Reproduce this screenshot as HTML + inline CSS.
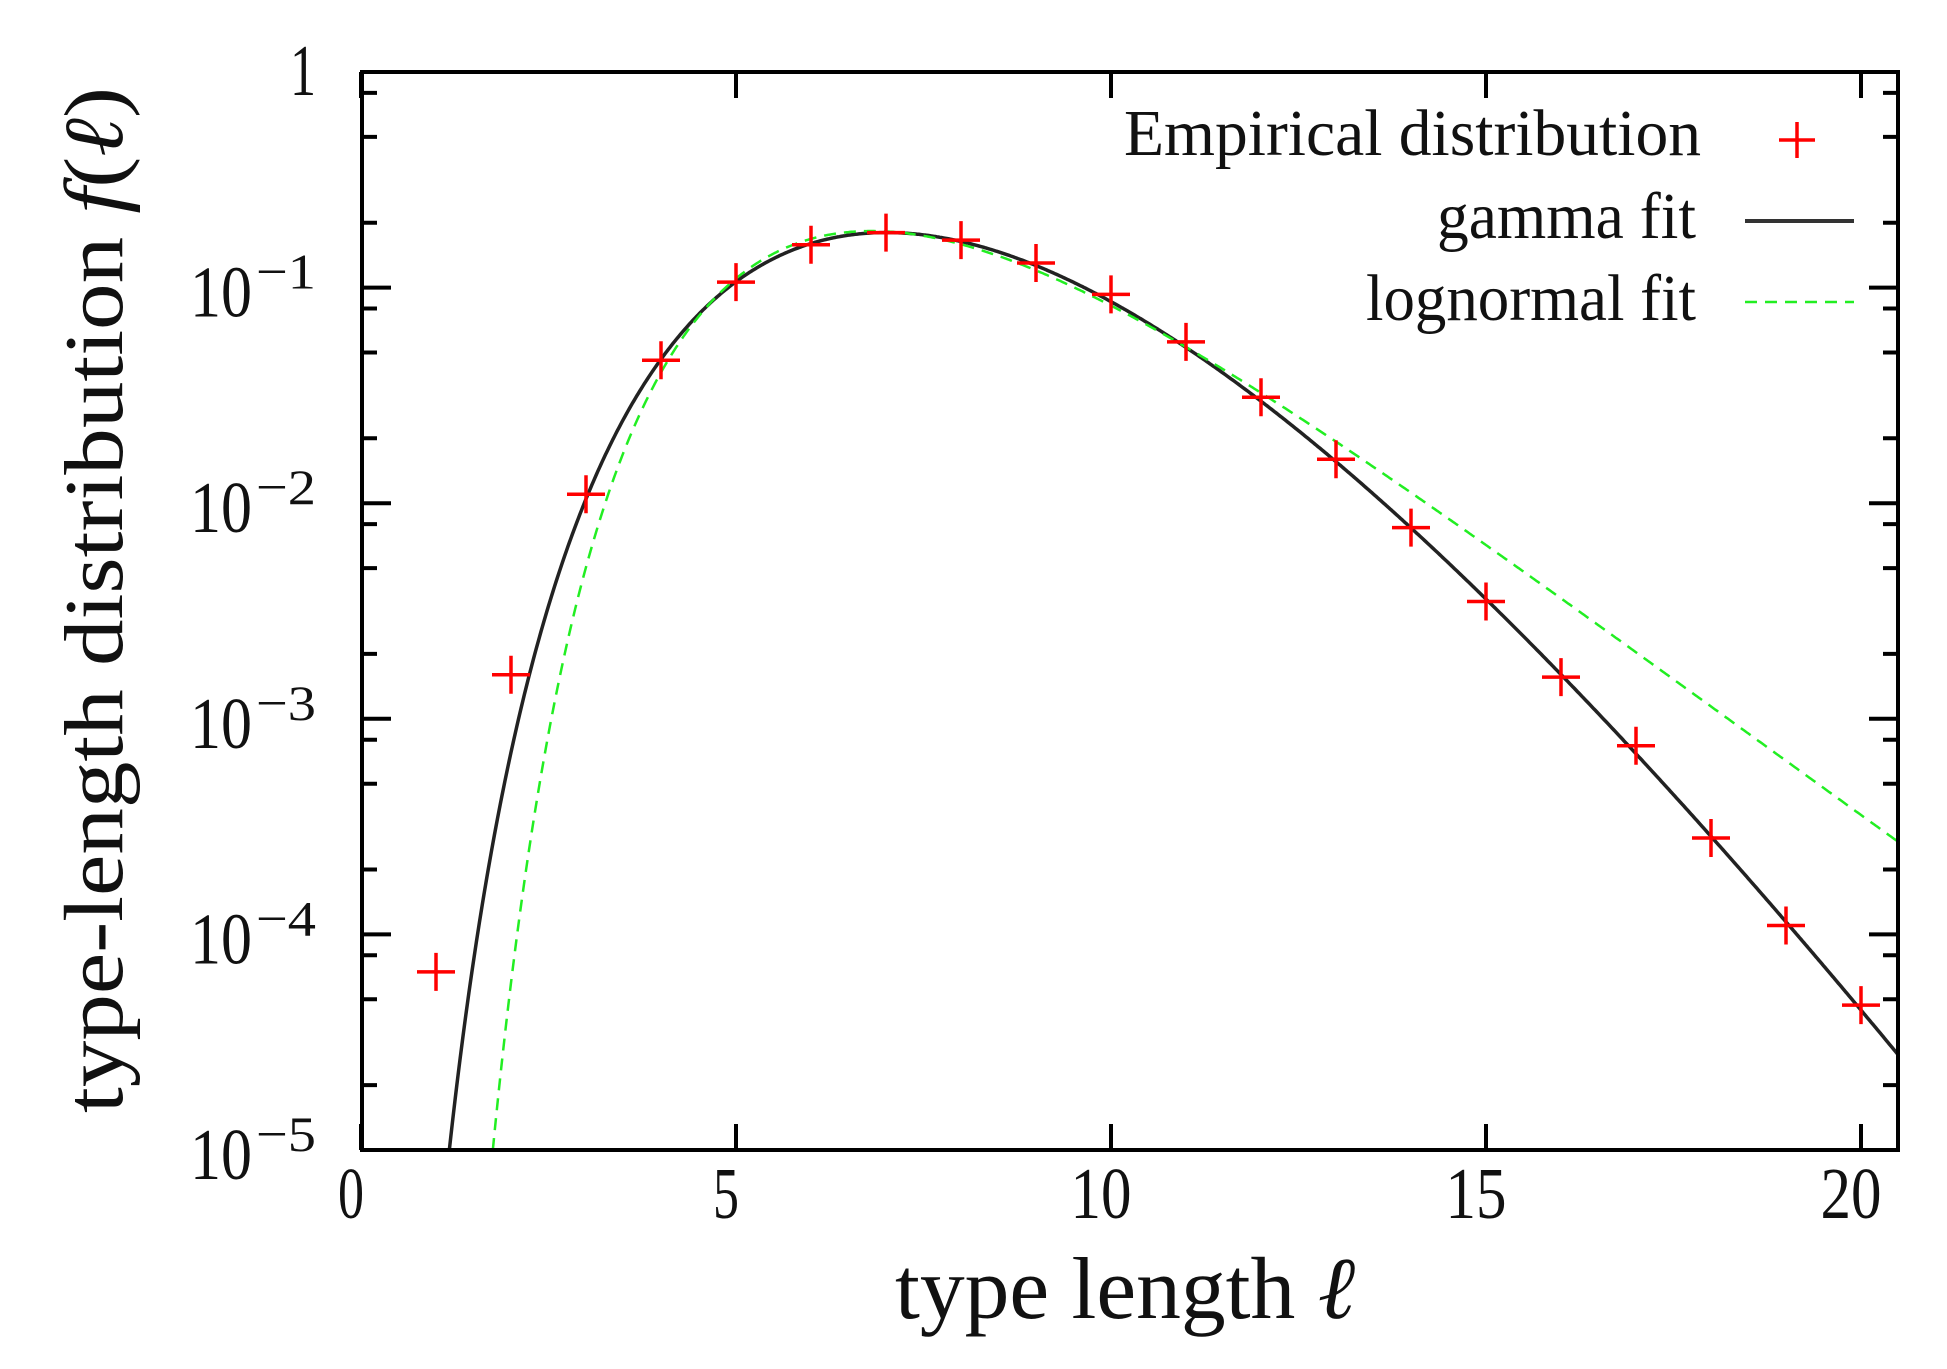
<!DOCTYPE html>
<html><head><meta charset="utf-8">
<style>
html,body{margin:0;padding:0;background:#fff;width:1947px;height:1369px;overflow:hidden}
svg text{font-family:"Liberation Serif",serif;fill:#111}
</style></head>
<body>
<svg id="s" width="1947" height="1369" viewBox="0 0 1947 1369" xmlns="http://www.w3.org/2000/svg">
<rect width="1947" height="1369" fill="#fff"/>
<g id="ticks" stroke="#000" stroke-width="4"></g>
<g id="curves"></g>
<rect x="362" y="72" width="1536" height="1078" fill="none" stroke="#000" stroke-width="4"/>
<g id="labels"></g>
<!-- legend -->
<text x="1701" y="155" font-size="66" text-anchor="end" textLength="577" lengthAdjust="spacingAndGlyphs">Empirical distribution</text>
<text x="1696" y="238" font-size="66" text-anchor="end" textLength="259" lengthAdjust="spacingAndGlyphs">gamma fit</text>
<text x="1696" y="320" font-size="66" text-anchor="end" textLength="330" lengthAdjust="spacingAndGlyphs">lognormal fit</text>
<path d="M1779 140h36M1797 122v36" stroke="#f00" stroke-width="3.5"/>
<line x1="1745" y1="221" x2="1854" y2="221" stroke="#333" stroke-width="4"/>
<line x1="1745" y1="302" x2="1854" y2="302" stroke="#2e2" stroke-width="2.5" stroke-dasharray="12,8"/>
<!-- axis titles -->
<text x="1125" y="1318" font-size="88" text-anchor="middle" textLength="460" lengthAdjust="spacingAndGlyphs">type length <tspan font-style="italic">ℓ</tspan></text>
<text transform="translate(122,600) rotate(-90)" x="0" y="0" font-size="84" text-anchor="middle" textLength="1026" lengthAdjust="spacingAndGlyphs">type-length distribution  <tspan font-style="italic">f</tspan>(<tspan font-style="italic">ℓ</tspan>)</text>
</svg>
<script>
var NS="http://www.w3.org/2000/svg";
function X(v){return 361+75*v;}
function Y(f){return 72-215.6*Math.log10(f);}
function el(p,tag,a,txt){var e=document.createElementNS(NS,tag);for(var k in a)e.setAttribute(k,a[k]);if(txt!=null)e.textContent=txt;document.getElementById(p).appendChild(e);return e;}
var t="";
for(var d=0;d>=-5;d--){
  var y=Y(Math.pow(10,d));
  t+="M362 "+y+"h29M1898 "+y+"h-29";
  if(d>-5){[2,5,8].forEach(function(m){var yy=Y(m*Math.pow(10,d-1));t+="M362 "+yy+"h15M1898 "+yy+"h-15";});}
}
for(var v=0;v<=20;v+=5){var x=X(v);t+="M"+x+" 1150v-26M"+x+" 72v26";}
el("ticks","path",{d:t,fill:"none"});
el("labels","text",{x:316,y:95,"font-size":73,"text-anchor":"end",textLength:26,lengthAdjust:"spacingAndGlyphs"},"1");
for(var d=1;d<=5;d++){
  var y=Y(Math.pow(10,-d));
  el("labels","text",{x:190,y:y+29,"font-size":73,textLength:62,lengthAdjust:"spacingAndGlyphs"},"10");
  el("labels","text",{x:256,y:y+1,"font-size":50,textLength:60,lengthAdjust:"spacingAndGlyphs"},"−"+d);
}
[0,5,10,15,20].forEach(function(v){
  var w=v<10?26:61;
  el("labels","text",{x:X(v)-10,y:1218,"font-size":73,"text-anchor":"middle",textLength:w,lengthAdjust:"spacingAndGlyphs"},""+v);
});
function gamma(x){return 0.18*Math.exp(10.3*Math.log(x/7)-(x-7)/0.68);}
function logn(x){var d=Math.log(x)-Math.log(6.8);return 0.183*Math.exp(-d*d/(2*0.0933));}
function path(fn,x0){var s="";var first=true;for(var x=x0;x<=20.49;x+=0.02){var f=fn(x);if(f<1e-5)continue;s+=(first?"M":"L")+X(x).toFixed(1)+" "+Y(f).toFixed(1);first=false;}
  var xe=20.49;s+="L"+X(xe).toFixed(1)+" "+Y(fn(xe)).toFixed(1);return s;}
function startX(fn,a,b){for(var i=0;i<60;i++){var m=(a+b)/2;if(fn(m)<1e-5)a=m;else b=m;}return b;}
var gs=startX(gamma,0.5,3), ls=startX(logn,0.5,3);
el("curves","path",{d:"M"+X(gs)+" 1150"+path(gamma,gs+0.001).replace(/^M/,"L"),fill:"none",stroke:"#222","stroke-width":3.5});
el("curves","path",{d:"M"+X(ls)+" 1150"+path(logn,ls+0.001).replace(/^M/,"L"),fill:"none",stroke:"#2e2","stroke-width":2.5,"stroke-dasharray":"12,8"});
var pts=[6.7e-5,1.6e-3,0.011,0.046,0.106,0.158,0.18,0.166,0.13,0.093,0.056,0.031,0.016,0.0077,0.0035,0.00156,0.00075,0.00028,0.00011,4.7e-5];
var p="";
pts.forEach(function(f,i){var x=X(i+1),y=Y(f);p+="M"+(x-19)+" "+y+"h38M"+x+" "+(y-19)+"v38";});
el("curves","path",{d:p,stroke:"#f00","stroke-width":3.5,fill:"none"});
</script>
</body></html>
